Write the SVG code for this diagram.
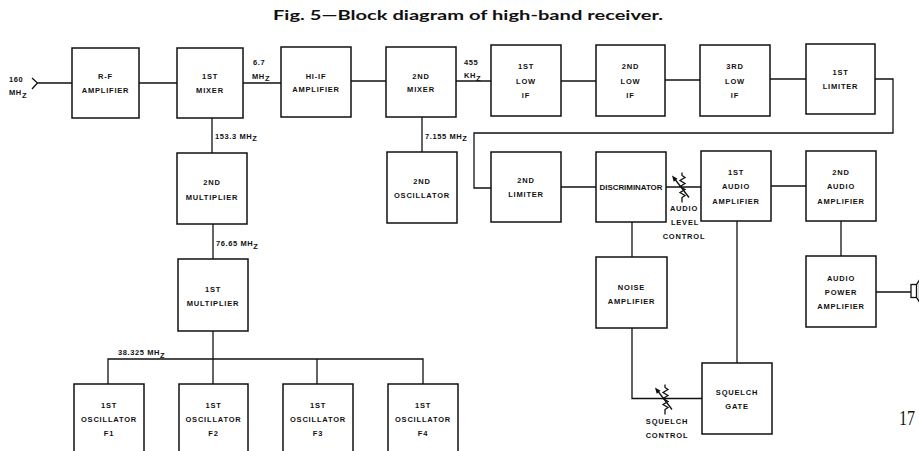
<svg xmlns="http://www.w3.org/2000/svg" width="919" height="451" viewBox="0 0 919 451">
<style>
  .box { fill: #fff; stroke: #111; stroke-width: 1.5; }
  .wire { fill: none; stroke: #111; stroke-width: 1.3; }
  .lbl { font-family: "Liberation Sans", Arial, sans-serif; font-weight: bold; font-size: 7.5px; letter-spacing: 0.8px; text-anchor: middle; fill: #111; }
  .frq { font-family: "Liberation Sans", Arial, sans-serif; font-weight: bold; font-size: 7.5px; letter-spacing: 0.6px; fill: #111; }
  .title { font-family: Lato, "Liberation Sans", sans-serif; font-weight: bold; font-size: 14px; fill: #111; }
</style>
<defs>
  <g id="varres">
    <path class="wire" d="M0,-14 V-11 L3,-9 L-2,-6 L3,-3 L-2,0 L3,3 L-2,6 L3,9 L0,11 V16"/>
    <path class="wire" d="M7,11 L-8,-8.5"/>
    <polygon points="-10,-11 -4.4,-7.8 -8.3,-4.7" fill="#111"/>
  </g>
</defs>
<rect width="919" height="451" fill="#fff"/>

<text class="title" x="273" y="20" textLength="390" lengthAdjust="spacingAndGlyphs">Fig. 5—Block diagram of high-band receiver.</text>

<g id="connectors">
  <path class="wire" d="M32,78 L37.5,83 L32,89 M37.5,83 H72"/>
  <path class="wire" d="M139,83 H177"/>
  <path class="wire" d="M243,83 H281"/>
  <path class="wire" d="M351,81 H386"/>
  <path class="wire" d="M456,81 H491"/>
  <path class="wire" d="M561,81 H596"/>
  <path class="wire" d="M665,80 H700"/>
  <path class="wire" d="M770,79 H806"/>
  <path class="wire" d="M875,79 H893 V133 H474 V188 H491"/>
  <path class="wire" d="M561,187 H596"/>
  <path class="wire" d="M666,187 H701"/>
  <path class="wire" d="M771,186 H806"/>
  <path class="wire" d="M632,222 V257"/>
  <path class="wire" d="M737,221 V363"/>
  <path class="wire" d="M841,221 V256"/>
  <path class="wire" d="M632,328 V398.5 H702"/>
  <path class="wire" d="M876,292 H911"/>
  <rect x="911" y="284.5" width="5.5" height="13" fill="#fff" stroke="#111" stroke-width="1.3"/>
  <path class="wire" d="M916.5,284.5 L919.5,280 V302 L916.5,297.5"/>
  <path class="wire" d="M212,118 V153"/>
  <path class="wire" d="M213,224 V259"/>
  <path class="wire" d="M213,331 V359"/>
  <path class="wire" d="M108,384 V359 H423 V384 M213,359 V384 M317,359 V384"/>
  <path class="wire" d="M422,117 V152"/>
  <use href="#varres" x="682" y="186.5"/>
  <use href="#varres" x="665" y="398.5"/>
</g>

<g id="freq-labels">
  <text class="frq" x="9" y="81.5">160</text>
  <text class="frq" x="9" y="95">MH<tspan dy="2.5">Z</tspan></text>
  <text class="frq" x="253" y="64.5">6.7</text>
  <text class="frq" x="252" y="78.5">MH<tspan dy="2.5">Z</tspan></text>
  <text class="frq" x="464" y="64.5">455</text>
  <text class="frq" x="464" y="78">KH<tspan dy="2.5">Z</tspan></text>
  <text class="frq" x="215" y="138.5">153.3 MH<tspan dy="2.5">Z</tspan></text>
  <text class="frq" x="425" y="138.5">7.155 MH<tspan dy="2.5">Z</tspan></text>
  <text class="frq" x="216" y="246">76.65 MH<tspan dy="2.5">Z</tspan></text>
  <text class="frq" x="118" y="355">38.325 MH<tspan dy="2.5">Z</tspan></text>
  <text class="lbl" x="684" y="211">AUDIO</text>
  <text class="lbl" x="685" y="225">LEVEL</text>
  <text class="lbl" x="684" y="239">CONTROL</text>
  <text class="lbl" x="667" y="424">SQUELCH</text>
  <text class="lbl" x="667" y="437.5">CONTROL</text>
</g>

<g id="rf-amplifier">
  <rect class="box" x="72" y="48" width="67" height="70"/>
  <text class="lbl" x="105.5" y="78.5">R-F</text>
  <text class="lbl" x="105.5" y="93">AMPLIFIER</text>
</g>
<g id="first-mixer">
  <rect class="box" x="177" y="48" width="66" height="70"/>
  <text class="lbl" x="210" y="78.5">1ST</text>
  <text class="lbl" x="210" y="93">MIXER</text>
</g>
<g id="hi-if-amplifier">
  <rect class="box" x="281" y="47" width="70" height="70"/>
  <text class="lbl" x="316" y="78.5">HI-IF</text>
  <text class="lbl" x="316" y="92">AMPLIFIER</text>
</g>
<g id="second-mixer">
  <rect class="box" x="386" y="47" width="70" height="70"/>
  <text class="lbl" x="421" y="78.5">2ND</text>
  <text class="lbl" x="421" y="92">MIXER</text>
</g>
<g id="first-low-if">
  <rect class="box" x="491" y="45" width="70" height="71"/>
  <text class="lbl" x="526" y="68.5">1ST</text>
  <text class="lbl" x="526" y="83.5">LOW</text>
  <text class="lbl" x="526" y="97.5">IF</text>
</g>
<g id="second-low-if">
  <rect class="box" x="596" y="45" width="69" height="71"/>
  <text class="lbl" x="630.5" y="68.5">2ND</text>
  <text class="lbl" x="630.5" y="83.5">LOW</text>
  <text class="lbl" x="630.5" y="97.5">IF</text>
</g>
<g id="third-low-if">
  <rect class="box" x="700" y="45" width="70" height="71"/>
  <text class="lbl" x="735" y="68.5">3RD</text>
  <text class="lbl" x="735" y="83.5">LOW</text>
  <text class="lbl" x="735" y="97.5">IF</text>
</g>
<g id="first-limiter">
  <rect class="box" x="806" y="44" width="69" height="70"/>
  <text class="lbl" x="840.5" y="74.5">1ST</text>
  <text class="lbl" x="840.5" y="88.5">LIMITER</text>
</g>

<g id="second-limiter">
  <rect class="box" x="491" y="152" width="70" height="70"/>
  <text class="lbl" x="526" y="183">2ND</text>
  <text class="lbl" x="526" y="197">LIMITER</text>
</g>
<g id="discriminator">
  <rect class="box" x="596" y="152" width="70" height="70"/>
  <text class="lbl" x="631" y="189.5" textLength="63" lengthAdjust="spacingAndGlyphs" style="letter-spacing:0">DISCRIMINATOR</text>
</g>
<g id="first-audio-amplifier">
  <rect class="box" x="701" y="151" width="70" height="70"/>
  <text class="lbl" x="736" y="174.5">1ST</text>
  <text class="lbl" x="736" y="189">AUDIO</text>
  <text class="lbl" x="736" y="203.5">AMPLIFIER</text>
</g>
<g id="second-audio-amplifier">
  <rect class="box" x="806" y="151" width="70" height="70"/>
  <text class="lbl" x="841" y="174.5">2ND</text>
  <text class="lbl" x="841" y="189">AUDIO</text>
  <text class="lbl" x="841" y="203.5">AMPLIFIER</text>
</g>
<g id="noise-amplifier">
  <rect class="box" x="596" y="257" width="71" height="71"/>
  <text class="lbl" x="631.5" y="289.5">NOISE</text>
  <text class="lbl" x="631.5" y="303.5">AMPLIFIER</text>
</g>
<g id="squelch-gate">
  <rect class="box" x="702" y="363" width="70" height="71"/>
  <text class="lbl" x="737" y="394.5">SQUELCH</text>
  <text class="lbl" x="737" y="408.5">GATE</text>
</g>
<g id="audio-power-amplifier">
  <rect class="box" x="806" y="256" width="70" height="71"/>
  <text class="lbl" x="841" y="280.5">AUDIO</text>
  <text class="lbl" x="841" y="294.5">POWER</text>
  <text class="lbl" x="841" y="309">AMPLIFIER</text>
</g>

<g id="second-multiplier">
  <rect class="box" x="177" y="153" width="70" height="71"/>
  <text class="lbl" x="212" y="185">2ND</text>
  <text class="lbl" x="212" y="199.5">MULTIPLIER</text>
</g>
<g id="first-multiplier">
  <rect class="box" x="178" y="259" width="70" height="72"/>
  <text class="lbl" x="213" y="291.5">1ST</text>
  <text class="lbl" x="213" y="305.5">MULTIPLIER</text>
</g>
<g id="second-oscillator">
  <rect class="box" x="387" y="152" width="70" height="71"/>
  <text class="lbl" x="422" y="183.5">2ND</text>
  <text class="lbl" x="422" y="198">OSCILLATOR</text>
</g>

<g id="first-oscillator-f1">
  <rect class="box" x="74" y="384" width="70" height="76"/>
  <text class="lbl" x="109" y="407.5">1ST</text>
  <text class="lbl" x="109" y="422">OSCILLATOR</text>
  <text class="lbl" x="109" y="436">F1</text>
</g>
<g id="first-oscillator-f2">
  <rect class="box" x="179" y="384" width="69" height="76"/>
  <text class="lbl" x="213.5" y="407.5">1ST</text>
  <text class="lbl" x="213.5" y="422">OSCILLATOR</text>
  <text class="lbl" x="213.5" y="436">F2</text>
</g>
<g id="first-oscillator-f3">
  <rect class="box" x="283" y="384" width="70" height="76"/>
  <text class="lbl" x="318" y="407.5">1ST</text>
  <text class="lbl" x="318" y="422">OSCILLATOR</text>
  <text class="lbl" x="318" y="436">F3</text>
</g>
<g id="first-oscillator-f4">
  <rect class="box" x="388" y="384" width="70" height="76"/>
  <text class="lbl" x="423" y="407.5">1ST</text>
  <text class="lbl" x="423" y="422">OSCILLATOR</text>
  <text class="lbl" x="423" y="436">F4</text>
</g>

<text x="899" y="424.5" font-family="Liberation Serif, serif" font-size="21" fill="#111" textLength="16" lengthAdjust="spacingAndGlyphs">17</text>
</svg>
